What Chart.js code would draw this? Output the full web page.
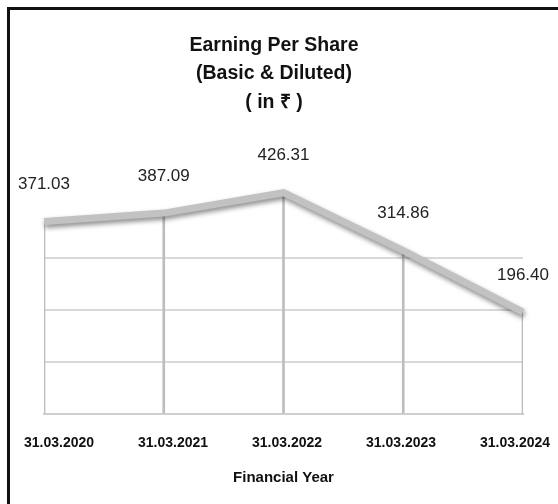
<!DOCTYPE html>
<html>
<head>
<meta charset="utf-8">
<script src="https://cdn.jsdelivr.net/npm/chart.js@4/dist/chart.umd.min.js"></script>
<style>
  html, body { margin: 0; padding: 0; background: #fff; overflow: hidden; }
  #wrap { position: relative; width: 558px; height: 504px; overflow: hidden; }
  #frame { position: absolute; left: 7px; top: 7px; width: 600px; height: 560px; border: 3px solid #111; }
  #epsChart { position: absolute; left: 0; top: 0; }
</style>
</head>
<body>
<div id="wrap">
  <div id="frame"></div>
  <canvas id="epsChart" width="558" height="504"></canvas>
</div>
<script>
const years = ['31.03.2020', '31.03.2021', '31.03.2022', '31.03.2023', '31.03.2024'];
const eps = [371.03, 387.09, 426.31, 314.86, 196.40];
const gridValues = [100, 200, 300];

const FONT = "'Liberation Sans', Arial, sans-serif";

// soft shadow under the thick line, like the original
const lineShadow = {
  id: 'lineShadow',
  beforeDatasetDraw(chart, args) {
    if (chart.data.datasets[args.index].type !== 'line') return;
    const ctx = chart.ctx;
    ctx.save();
    ctx.shadowColor = 'rgba(0,0,0,0.45)';
    ctx.shadowBlur = 5;
    ctx.shadowOffsetX = 1;
    ctx.shadowOffsetY = 3;
  },
  afterDatasetDraw(chart, args) {
    if (chart.data.datasets[args.index].type !== 'line') return;
    chart.ctx.restore();
  }
};

// value labels above each point
const valueLabels = {
  id: 'valueLabels',
  afterDatasetsDraw(chart) {
    const ctx = chart.ctx;
    const meta = chart.getDatasetMeta(1);
    ctx.save();
    ctx.font = '17px ' + FONT;
    ctx.fillStyle = '#222';
    ctx.textAlign = 'center';
    ctx.textBaseline = 'middle';
    meta.data.forEach((pt, i) => {
      ctx.fillText(eps[i].toFixed(2), pt.x, pt.y - 37);
    });
    ctx.restore();
  }
};

new Chart(document.getElementById('epsChart'), {
  type: 'line',
  data: {
    labels: years,
    datasets: [{
      type: 'bar',
      data: eps,
      backgroundColor: '#bdbdbd',
      barThickness: 2,
      order: 2
    }, {
      type: 'line',
      data: eps,
      borderColor: '#c2c2c2',
      borderWidth: 7,
      borderCapStyle: 'butt',
      borderJoinStyle: 'miter',
      pointRadius: 0,
      tension: 0,
      fill: false,
      clip: false,
      order: 1
    }]
  },
  options: {
    responsive: false,
    animation: false,
    layout: { padding: { left: 25, right: 35, top: 0, bottom: 13 } },
    plugins: {
      legend: { display: false },
      tooltip: { enabled: false },
      title: {
        display: true,
        text: ['Earning Per Share', '(Basic & Diluted)', '( in ₹ )'],
        color: '#111',
        font: { family: FONT, size: 19.5, weight: 'bold', lineHeight: 1.46 },
        padding: { top: 31, bottom: 38 }
      }
    },
    scales: {
      // data axis, not drawn
      x: {
        type: 'category',
        offset: false,
        display: false
      },
      // label axis: the year labels sit a little inside the plot ends
      x2: {
        type: 'linear',
        position: 'bottom',
        min: -0.1316,
        max: 4.0702,
        grid: { display: false, drawTicks: false },
        border: { display: true, color: '#cfcfcf', width: 2 },
        ticks: {
          stepSize: 1,
          includeBounds: false,
          color: '#111',
          font: { family: FONT, size: 14, weight: 'bold' },
          padding: 21,
          maxRotation: 0,
          autoSkip: false,
          callback: v => Number.isInteger(v) ? years[v] : null
        },
        title: {
          display: true,
          text: 'Financial Year',
          color: '#111',
          font: { family: FONT, size: 15, weight: 'bold' },
          padding: { top: -4, bottom: 4 }
        },
        afterFit: scale => { scale.paddingLeft = 0; scale.paddingRight = 0; }
      },
      y: {
        min: 0,
        max: 500,
        ticks: { display: false, stepSize: 100 },
        border: { display: false },
        grid: {
          drawTicks: false,
          lineWidth: 2,
          color: c => gridValues.includes(c.tick.value) ? '#d9d9d9' : 'rgba(0,0,0,0)'
        },
        afterFit: scale => { scale.width = 19; }
      }
    }
  },
  plugins: [lineShadow, valueLabels]
});
</script>
</body>
</html>
